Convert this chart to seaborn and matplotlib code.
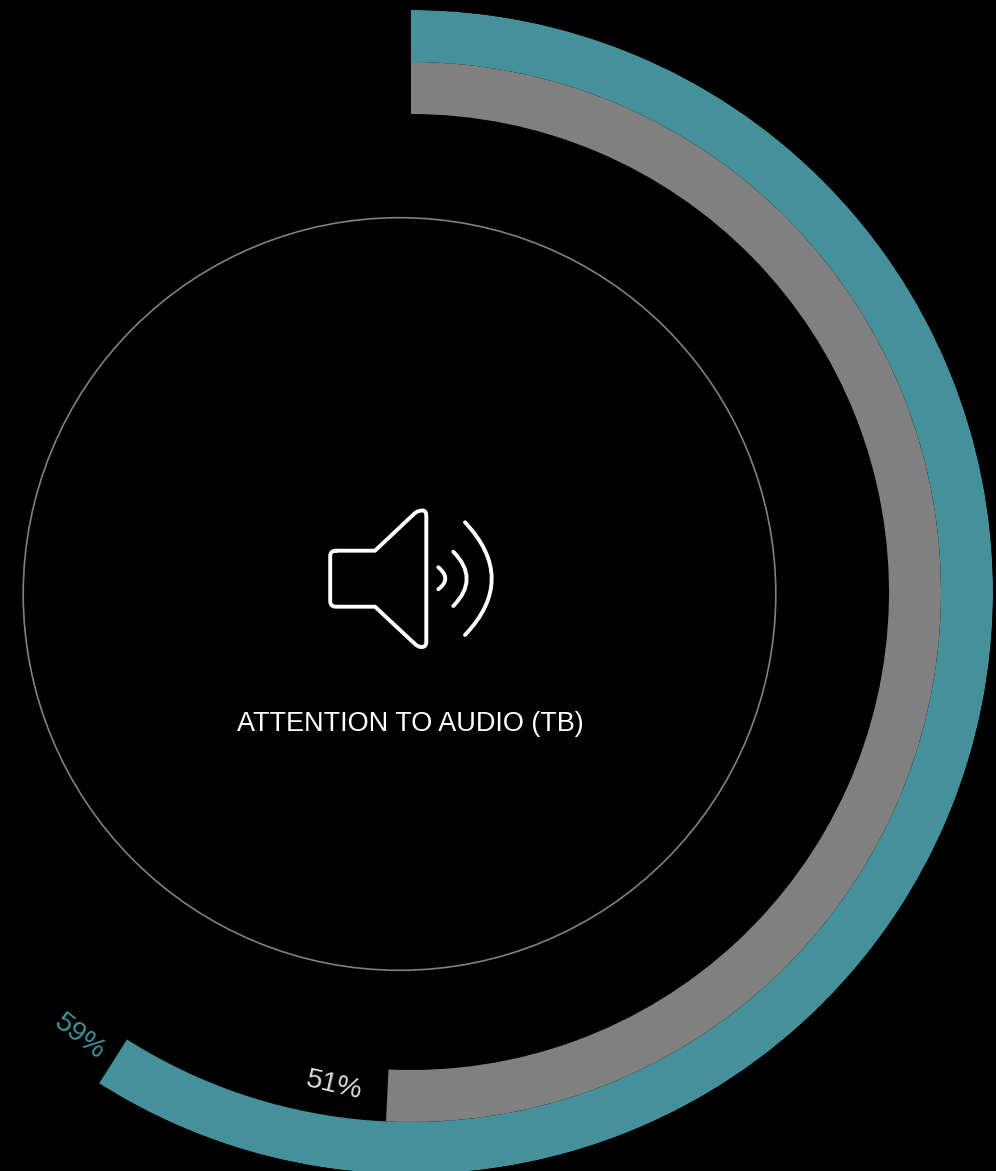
import numpy as np
import pandas as pd
import seaborn as sns
from matplotlib import pyplot as plt
from matplotlib.patches import Circle, PathPatch
from matplotlib.path import Path

# data
groups = ["Attention (outer)", "Attention (inner)"]
percent = [59.0, 50.75]
labels = ["59%", "51%"]
colors = ["#44919c", "#808080"]
title = "ATTENTION TO AUDIO (TB)"

W, H = 996, 1171
sns.set_theme(style="dark")
plt.rcParams["font.family"] = ["Liberation Sans", "DejaVu Sans"]

df = pd.DataFrame({"group": groups, "percent": percent})
df["theta"] = df["percent"] / 100 * 2 * np.pi

fig = plt.figure(figsize=(W / 100, H / 100), dpi=100, facecolor="black")

# rings, centre and outer radius in pixels
cx, cy, R, ring = 411, 592, 582, 52
ax = fig.add_axes([(cx - R) / W, (H - cy - R) / H, 2 * R / W, 2 * R / H],
                  projection="polar")
ax.set_theta_zero_location("N")
ax.set_theta_direction(-1)
sns.barplot(data=df, x="theta", y="group", hue="group", palette=colors,
            order=groups, hue_order=groups, orient="y", errorbar=None,
            width=1, dodge=False, saturation=1, legend=False, linewidth=0, ax=ax)
ax.set_ylim(R / ring - 0.5, -0.5)
ax.set_axis_off()

# overlay in pixel coordinates for the ring outline, icon and text
ov = fig.add_axes([0, 0, 1, 1], facecolor="none")
ov.set_xlim(0, W)
ov.set_ylim(H, 0)
ov.set_axis_off()

ov.add_patch(Circle((399.5, 594), 376.3, fill=False, ec="#808080", lw=1.2))

M, L, Q, Z = Path.MOVETO, Path.LINETO, Path.CURVE3, Path.CLOSEPOLY
body = [
    ((336, 550.7), M), ((375, 550.7), L), ((415, 513), L),
    ((419, 510), Q), ((423, 510.5), Q), ((426.3, 511), Q), ((426.3, 516), Q),
    ((426.3, 642), L), ((426.3, 647.5), Q), ((421, 647), Q),
    ((418, 647), Q), ((415, 644), Q),
    ((375, 606.7), L), ((336, 606.7), L), ((330.2, 606.7), Q), ((330.2, 601), Q),
    ((330.2, 556), L), ((330.2, 550.7), Q), ((336, 550.7), Q),
]
verts, codes = zip(*body)
ov.add_patch(PathPatch(Path(verts, codes), fill=False, ec="white", lw=2.8,
                       joinstyle="round", capstyle="round"))

waves = [
    ((438.3, 567.3), (445.3, 578.5), (438.3, 589.3)),
    ((453.3, 551.7), (466.7, 578.8), (453.3, 606)),
    ((465, 522.3), (491.7, 578.8), (465, 635)),
]
for p0, mid, p2 in waves:
    ctrl = (2 * mid[0] - (p0[0] + p2[0]) / 2, 2 * mid[1] - (p0[1] + p2[1]) / 2)
    ov.add_patch(PathPatch(Path([p0, ctrl, p2], [M, Q, Q]), fill=False, ec="white",
                           lw=2.8, capstyle="round"))

ov.text(410.5, 724, title, color="white", fontsize=19.45, ha="center", va="center")
ov.text(80, 1037, labels[0], color=colors[0], fontsize=20.5, rotation=-38,
        ha="center", va="center", rotation_mode="anchor")
ov.text(334, 1086, labels[1], color="#dddddd", fontsize=20.5, rotation=-13,
        ha="center", va="center", rotation_mode="anchor")

fig.savefig("out.png", dpi=100, facecolor="black")
